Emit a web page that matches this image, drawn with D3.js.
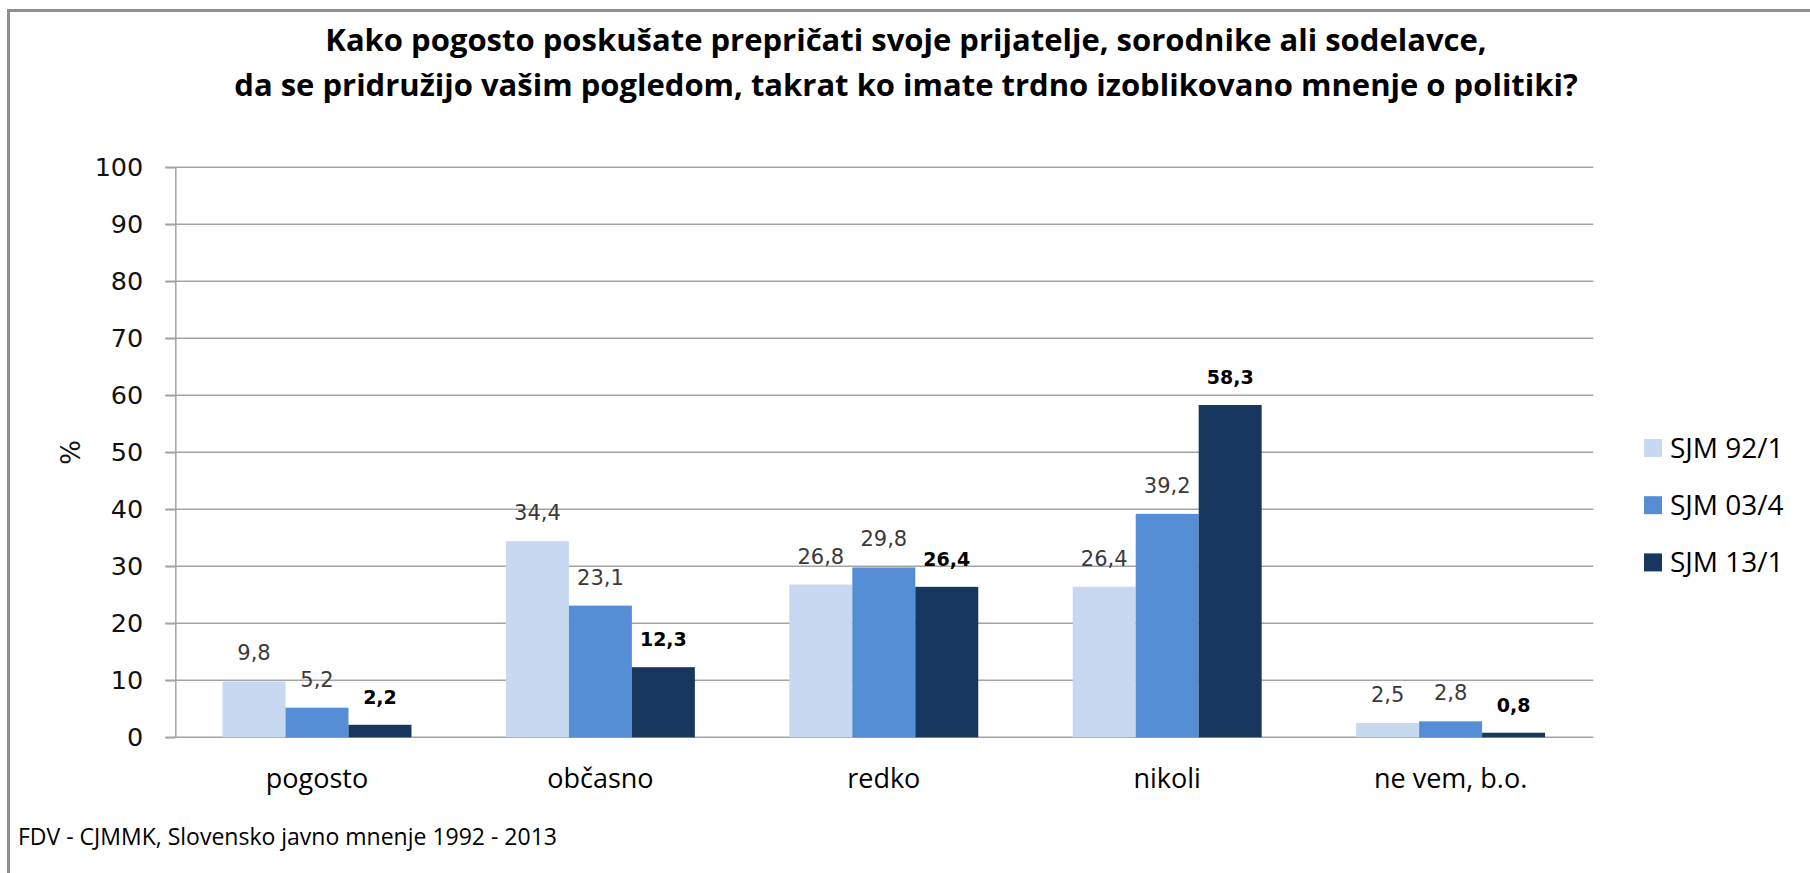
<!DOCTYPE html>
<html><head><meta charset="utf-8">
<script src="https://cdn.jsdelivr.net/npm/d3@7/dist/d3.min.js"></script>
<style>body{margin:0;background:#fff;overflow:hidden} svg{display:block}</style>
</head><body>
<svg id="c" width="1810" height="873"></svg>
<script>
// ---- data ----
const titleLines = [
  "Kako pogosto poskušate prepričati svoje prijatelje, sorodnike ali sodelavce,",
  "da se pridružijo vašim pogledom, takrat ko imate trdno izoblikovano mnenje o politiki?"
];
const categories = ["pogosto", "občasno", "redko", "nikoli", "ne vem, b.o."];
const seriesNames = ["SJM 92/1", "SJM 03/4", "SJM 13/1"];
const sjm92 = [9.8, 34.4, 26.8, 26.4, 2.5];
const sjm03 = [5.2, 23.1, 29.8, 39.2, 2.8];
const sjm13 = [2.2, 12.3, 26.4, 58.3, 0.8];
const yTicks = [0, 10, 20, 30, 40, 50, 60, 70, 80, 90, 100];
const yLabel = "%";
const sourceText = "FDV - CJMMK, Slovensko javno mnenje 1992 - 2013";
const colors = ["#C6D9F0", "#558ED5", "#17375E"];

const seriesValues = [sjm92, sjm03, sjm13];
const series = seriesNames.map((name, i) => ({name, values: seriesValues[i], color: colors[i], bold: i === 2}));

// ---- layout ----
const svg = d3.select("#c");
const plotL = 175.3, plotR = 1592.3, plotT = 167.3, plotB = 737.3;
const gridColor = "#a3a3a3";

// chart frame
svg.append("rect").attr("x", 8.5).attr("y", 10.5).attr("width", 1900).attr("height", 1000)
  .attr("fill", "none").attr("stroke", "#8f8f8f").attr("stroke-width", 3);

const x = d3.scaleBand().domain(categories).range([plotL, plotR]).paddingInner(1/3).paddingOuter(1/6);
const xs = d3.scaleBand().domain(seriesNames).range([0, x.bandwidth()]);
const y = d3.scaleLinear().domain([0, 100]).range([plotB, plotT]);

// gridlines
svg.append("g").selectAll("line").data(yTicks).join("line")
  .attr("x1", plotL - 10).attr("x2", plotR + 1)
  .attr("y1", d => y(d)).attr("y2", d => y(d))
  .attr("stroke", gridColor).attr("stroke-width", 1.5);

// y axis
const yAxis = svg.append("g").attr("transform", `translate(${plotL},0)`)
  .call(d3.axisLeft(y).tickValues(yTicks).tickSizeInner(10).tickSizeOuter(0).tickPadding(22).tickFormat(d3.format("d")));
yAxis.select(".domain").attr("stroke", gridColor).attr("stroke-width", 1.5);
yAxis.selectAll(".tick line").attr("stroke", gridColor).attr("stroke-width", 1.5);
yAxis.selectAll(".tick text").attr("font-family", "DejaVu Sans").attr("font-size", 25.5).attr("fill", "#111");

// y label
svg.append("text").attr("transform", `translate(80,${(plotT + plotB) / 2}) rotate(-90)`)
  .attr("text-anchor", "middle").attr("font-family", "DejaVu Sans").attr("font-size", 26).attr("fill", "#111")
  .text(yLabel);

// bars
const groups = svg.append("g").selectAll("g").data(series).join("g").attr("fill", d => d.color);
groups.selectAll("rect").data(s => s.values.map((v, i) => ({v, cat: categories[i], s}))).join("rect")
  .attr("x", d => x(d.cat) + xs(d.s.name))
  .attr("y", d => y(d.v))
  .attr("width", xs.bandwidth())
  .attr("height", d => y(0) - y(d.v));

// value labels
const fmt = v => d3.format(".1f")(v).replace(".", ",");
svg.append("g").selectAll("g").data(series).join("g")
  .selectAll("text").data(s => s.values.map((v, i) => ({v, cat: categories[i], s}))).join("text")
  .attr("x", d => x(d.cat) + xs(d.s.name) + xs.bandwidth() / 2)
  .attr("y", d => y(d.v) - 21)
  .attr("text-anchor", "middle")
  .attr("font-family", "DejaVu Sans")
  .attr("font-size", d => d.s.bold ? 19 : 21)
  .attr("font-weight", d => d.s.bold ? "bold" : "normal")
  .attr("fill", d => d.s.bold ? "#000" : "#3a3a3a")
  .text(d => fmt(d.v));

// x category labels
svg.append("g").selectAll("text").data(categories).join("text")
  .attr("x", d => x(d) + x.bandwidth() / 2).attr("y", 788)
  .attr("text-anchor", "middle").attr("font-family", "Open Sans").attr("font-size", 27).attr("fill", "#000")
  .text(d => d);

// legend
const lg = svg.append("g").selectAll("g").data(series).join("g")
  .attr("transform", (d, i) => `translate(1644,${448 + i * 57.2})`);
lg.append("rect").attr("x", 0).attr("y", -9).attr("width", 18).attr("height", 18).attr("fill", d => d.color);
lg.append("text").attr("x", 26).attr("y", 9.5).attr("font-family", "Open Sans").attr("font-size", 28).attr("fill", "#000")
  .text(d => d.name);

// title
svg.append("g").selectAll("text").data(titleLines).join("text")
  .attr("x", 906).attr("y", (d, i) => 51 + i * 44.5)
  .attr("text-anchor", "middle").attr("font-family", "Open Sans").attr("font-weight", "bold")
  .attr("font-size", 31).attr("fill", "#000").text(d => d);

// source
svg.append("text").attr("x", 18).attr("y", 845).attr("font-family", "Open Sans").attr("font-size", 23)
  .attr("fill", "#000").text(sourceText);
</script>
</body></html>
